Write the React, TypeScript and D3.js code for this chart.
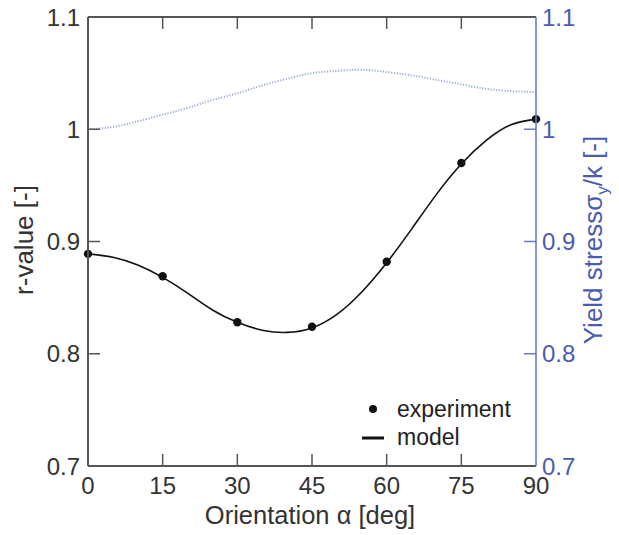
import React from "react";
import * as d3 from "d3";

const xTicks = [0, 15, 30, 45, 60, 75, 90];
const yTicks = [0.7, 0.8, 0.9, 1.0, 1.1];
const yTickLabels = ["0.7", "0.8", "0.9", "1", "1.1"];

const expAngles = [0, 15, 30, 45, 60, 75, 90];
const expR = [0.889, 0.869, 0.828, 0.824, 0.882, 0.970, 1.009];

const modelAngles = [0, 5, 10, 15, 20, 25, 30, 35, 40, 45, 50, 55, 60, 65, 70, 75, 80, 85, 90];
const modelR = [0.889, 0.886, 0.879, 0.868, 0.854, 0.839, 0.828, 0.821, 0.819, 0.823, 0.835, 0.855, 0.881, 0.911, 0.942, 0.969, 0.990, 1.004, 1.009];
const yieldStress = [1.0, 1.002, 1.007, 1.013, 1.019, 1.026, 1.032, 1.039, 1.045, 1.050, 1.052, 1.053, 1.051, 1.048, 1.044, 1.040, 1.036, 1.034, 1.033];

const W = 619, H = 535;
const L = 88, R = 536, T = 17, B = 466;
const GRAY = "#555";
const BLUE = "#6a7cc0";
const BLUE_TXT = "#4a5cb0";
const FONT = "Liberation Sans, Arial, sans-serif";

export default function App() {
  const x = d3.scaleLinear().domain([0, 90]).range([L, R]);
  const y = d3.scaleLinear().domain([0.7, 1.1]).range([B, T]);
  const y2 = d3.scaleLinear().domain([0.7, 1.1]).range([B, T]);

  const modelLine = d3.line<number>()
    .x((_, i) => x(modelAngles[i]))
    .y((d) => y(d))
    .curve(d3.curveNatural)(modelR) || "";
  const yieldLine = d3.line<number>()
    .x((_, i) => x(modelAngles[i]))
    .y((d) => y2(d))
    .curve(d3.curveNatural)(yieldStress) || "";

  const tl = 12;

  return (
    <svg width={W} height={H} style={{ position: "absolute", left: 0, top: 0, background: "#fff" }} fontFamily={FONT}>
      {/* yield stress dotted */}
      <path d={yieldLine} fill="none" stroke="#8b9bd8" strokeWidth={2} strokeDasharray="1.2,1.6" opacity={0.85} />
      {/* model */}
      <path d={modelLine} fill="none" stroke="#111" strokeWidth={1.6} />
      {expAngles.map((a, i) => (
        <circle key={i} cx={x(a)} cy={y(expR[i])} r={4.2} fill="#111" />
      ))}

      {/* axes frame */}
      <line x1={L} y1={T} x2={R} y2={T} stroke={GRAY} strokeWidth={2} />
      <line x1={L} y1={B} x2={R} y2={B} stroke={GRAY} strokeWidth={2} />
      <line x1={L} y1={T} x2={L} y2={B} stroke={GRAY} strokeWidth={2} />
      <line x1={R} y1={T} x2={R} y2={B} stroke={BLUE} strokeWidth={1.6} />

      {/* x ticks */}
      {xTicks.map((t) => (
        <g key={"x" + t}>
          {t > 0 && t < 90 && (
            <>
              <line x1={x(t)} x2={x(t)} y1={B} y2={B - tl} stroke={GRAY} strokeWidth={1.5} />
              <line x1={x(t)} x2={x(t)} y1={T} y2={T + tl} stroke={GRAY} strokeWidth={1.5} />
            </>
          )}
          <text x={x(t)} y={494} textAnchor="middle" fontSize={24} fill="#333">{t}</text>
        </g>
      ))}

      {/* left y ticks */}
      {yTicks.map((t, i) => (
        <g key={"y" + t}>
          {t > 0.75 && t < 1.05 && (
            <line x1={L} x2={L + tl} y1={y(t)} y2={y(t)} stroke={GRAY} strokeWidth={1.5} />
          )}
          <text x={80} y={y(t)} dy="0.36em" textAnchor="end" fontSize={24} fill="#333">{yTickLabels[i]}</text>
        </g>
      ))}

      {/* right y ticks */}
      {yTicks.map((t, i) => (
        <g key={"y2" + t}>
          {t > 0.75 && t < 1.05 && (
            <line x1={R} x2={R - tl} y1={y2(t)} y2={y2(t)} stroke={BLUE} strokeWidth={1.5} />
          )}
          <text x={542} y={y2(t)} dy="0.36em" textAnchor="start" fontSize={24} fill={BLUE_TXT}>{yTickLabels[i]}</text>
        </g>
      ))}

      {/* axis titles */}
      <text x={310} y={524} textAnchor="middle" fontSize={25.5} fill="#333">Orientation α [deg]</text>
      <text transform={`translate(33, 240) rotate(-90)`} textAnchor="middle" fontSize={26} fill="#333">r-value [-]</text>
      <text transform={`translate(602, 240) rotate(-90)`} textAnchor="middle" fontSize={26} fill={BLUE_TXT}>
        Yield stressσ<tspan fontSize={17} dy={6}>y</tspan><tspan dy={-6}>/k [-]</tspan>
      </text>

      {/* legend */}
      <circle cx={373} cy={409} r={4} fill="#111" />
      <text x={397} y={417} fontSize={23} fill="#222">experiment</text>
      <line x1={362} x2={384} y1={438} y2={438} stroke="#111" strokeWidth={3} />
      <text x={397} y={445} fontSize={23} fill="#222">model</text>
    </svg>
  );
}
